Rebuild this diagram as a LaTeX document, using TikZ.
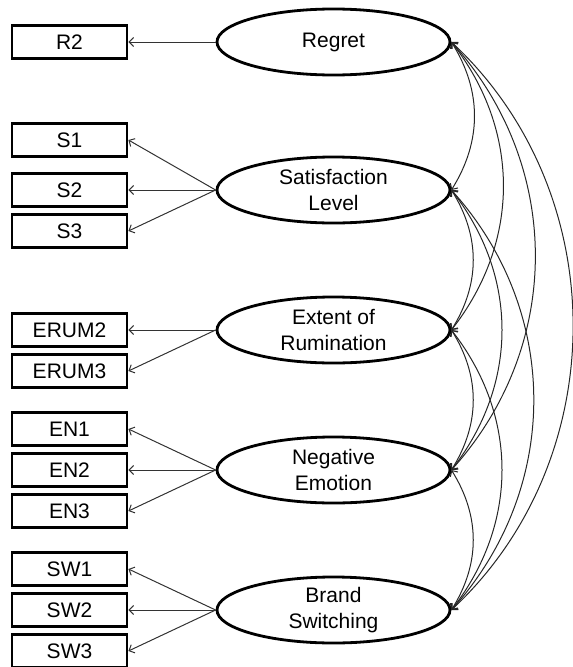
\documentclass[tikz,border=0pt]{standalone}
\usepackage{fontspec}
\setmainfont{Liberation Sans}
\usetikzlibrary{shapes.geometric,arrows.meta}

\tikzset{
  item/.style={draw, line width=2.8pt, minimum width=115pt, minimum height=33pt,
    inner sep=0pt, font=\fontsize{21}{24}\selectfont},
  factor/.style={draw, ellipse, line width=2.8pt, minimum width=233pt, minimum height=66pt,
    inner sep=0pt, align=center, font=\fontsize{21}{25.5}\selectfont},
  load/.style={->, line width=1pt, draw=black!80},
  cov/.style={<->, line width=1pt, draw=black!85}
}

\begin{document}
\begin{tikzpicture}[x=1pt, y=-1pt, >={Straight Barb[length=4.5pt,width=9pt]}]
\useasboundingbox (0,0) rectangle (573,667);

% latent factors
\node[factor] (reg) at (333.5,42) {Regret};
\node[factor] (sat) at (333.5,190) {Satisfaction\\Level};
\node[factor] (ext) at (333.5,330) {Extent of\\Rumination};
\node[factor] (neg) at (333.5,470) {Negative\\Emotion};
\node[factor] (bra) at (333.5,610) {Brand\\Switching};

% indicators
\foreach \n/\y/\f in {R2/42/reg, S1/140/sat, S2/190/sat, S3/231/sat,
    ERUM2/330/ext, ERUM3/371/ext, EN1/429/neg, EN2/470/neg, EN3/511/neg,
    SW1/569/bra, SW2/610/bra, SW3/651/bra}{
  \node[item] (\n) at (69.5,\y) {\n};
  \draw[load] (\f.west) -- (\n.east);
}

% covariances
\foreach \a/\b/\k in {reg/sat/32, reg/ext/38, reg/neg/42, reg/bra/47,
    sat/ext/32, sat/neg/38, sat/bra/42, ext/neg/32, ext/bra/38, neg/bra/32}
  \draw[cov] (\a.east) to[bend left=\k] (\b.east);
\end{tikzpicture}
\end{document}
